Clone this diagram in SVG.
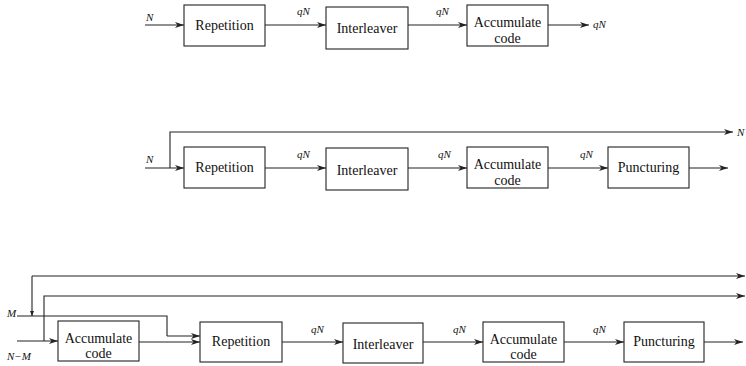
<svg xmlns="http://www.w3.org/2000/svg" width="746" height="366" viewBox="0 0 746 366">
<defs>
<marker id="arr" markerWidth="9" markerHeight="6" refX="9" refY="3" orient="auto" markerUnits="userSpaceOnUse">
<path d="M0,0 L9,3 L0,6 L2.5,3 z" fill="#222"/>
</marker>
</defs>
<style>
.box{fill:#fff;stroke:#222;stroke-width:1.1}
.t{font-size:14px;fill:#111;text-anchor:middle}
.l{font-size:11px;font-style:italic;fill:#111}
.c{fill:none;stroke:#222;stroke-width:1.1}
.a{marker-end:url(#arr)}
</style>
<rect width="746" height="366" fill="#fff"/>
<g id="connectors">
<line class="c a" x1="145" y1="25" x2="184" y2="25"/>
<line class="c a" x1="265" y1="25" x2="326" y2="25"/>
<line class="c a" x1="408" y1="25" x2="467" y2="25"/>
<line class="c a" x1="548" y1="25" x2="589" y2="25"/>
<line class="c a" x1="145" y1="168" x2="184" y2="168"/>
<polyline class="c a" points="170,168 170,132 733,132"/>
<line class="c a" x1="265" y1="168" x2="326" y2="168"/>
<line class="c a" x1="408" y1="168" x2="467" y2="168"/>
<line class="c a" x1="548" y1="168" x2="608" y2="168"/>
<line class="c a" x1="689" y1="168" x2="728" y2="168"/>
<polyline class="c" points="17,316 167,316 167,336"/>
<line class="c a" x1="167" y1="336" x2="200" y2="336"/>
<line class="c" x1="32" y1="276" x2="32" y2="316"/>
<path d="M30,311 L32,316 L34,311 z" fill="#222"/>
<polyline class="c a" points="32,276 745,276"/>
<polyline class="c a" points="44,341 44,296 745,296"/>
<line class="c a" x1="17" y1="341" x2="58" y2="341"/>
<line class="c a" x1="139" y1="342" x2="200" y2="342"/>
<line class="c a" x1="282" y1="342" x2="343" y2="342"/>
<line class="c a" x1="423" y1="342" x2="483" y2="342"/>
<line class="c a" x1="564" y1="342" x2="624" y2="342"/>
<line class="c a" x1="704" y1="342" x2="743" y2="342"/>
</g>
<g id="labels" font-family="'Liberation Serif', 'Times New Roman', Times, 'DejaVu Serif', serif">
<text class="l" x="146" y="21">N</text>
<text class="l" x="297" y="15">qN</text>
<text class="l" x="436" y="15">qN</text>
<text class="l" x="593" y="28">qN</text>
<text class="l" x="146" y="163">N</text>
<text class="l" x="737" y="136">N</text>
<text class="l" x="297" y="158">qN</text>
<text class="l" x="438" y="158">qN</text>
<text class="l" x="580" y="158">qN</text>
<text class="l" x="7" y="317">M</text>
<text class="l" x="7" y="360">N−M</text>
<text class="l" x="311" y="333">qN</text>
<text class="l" x="453" y="333">qN</text>
<text class="l" x="593" y="333">qN</text>
</g>
<g font-family="'Liberation Serif', 'Times New Roman', Times, 'DejaVu Serif', serif">
<g id="r1-repetition"><rect class="box" x="184" y="5" width="81" height="41"/><text class="t" x="224.5" y="30">Repetition</text></g>
<g id="r1-interleaver"><rect class="box" x="326" y="7" width="82" height="42"/><text class="t" x="367" y="33">Interleaver</text></g>
<g id="r1-accumulate"><rect class="box" x="467" y="5" width="81" height="41"/><text class="t" x="507.5" y="27">Accumulate</text><text class="t" x="507.5" y="43">code</text></g>
<g id="r2-repetition"><rect class="box" x="184" y="147" width="81" height="41"/><text class="t" x="224.5" y="172">Repetition</text></g>
<g id="r2-interleaver"><rect class="box" x="326" y="148" width="82" height="42"/><text class="t" x="367" y="175">Interleaver</text></g>
<g id="r2-accumulate"><rect class="box" x="467" y="147" width="81" height="41"/><text class="t" x="507.5" y="169">Accumulate</text><text class="t" x="507.5" y="185">code</text></g>
<g id="r2-puncturing"><rect class="box" x="608" y="147" width="81" height="41"/><text class="t" x="648.5" y="172">Puncturing</text></g>
<g id="r3-accumulate1"><rect class="box" x="58" y="321" width="81" height="40"/><text class="t" x="98.5" y="343">Accumulate</text><text class="t" x="98.5" y="358">code</text></g>
<g id="r3-repetition"><rect class="box" x="200" y="322" width="82" height="40"/><text class="t" x="241" y="346">Repetition</text></g>
<g id="r3-interleaver"><rect class="box" x="343" y="323" width="80" height="40"/><text class="t" x="383" y="349">Interleaver</text></g>
<g id="r3-accumulate2"><rect class="box" x="483" y="322" width="81" height="40"/><text class="t" x="523.5" y="344">Accumulate</text><text class="t" x="523.5" y="359">code</text></g>
<g id="r3-puncturing"><rect class="box" x="624" y="322" width="80" height="40"/><text class="t" x="664" y="346">Puncturing</text></g>
</g>
</svg>
